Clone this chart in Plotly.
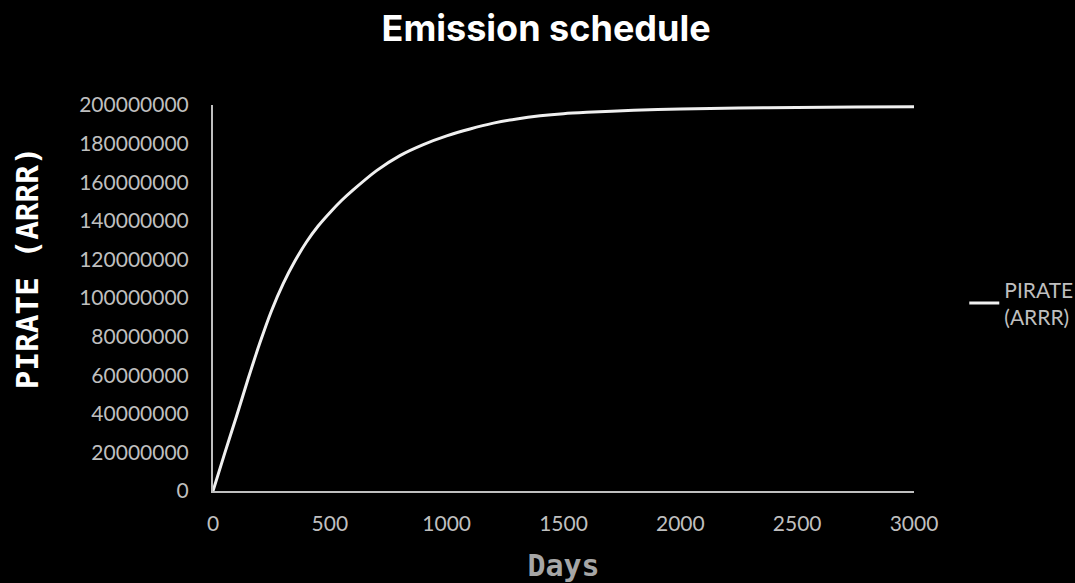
import plotly.graph_objects as go

days = [0, 50, 100, 150, 200, 250, 300, 350, 400, 450, 500, 550, 600, 700, 800, 900,
        1000, 1100, 1200, 1300, 1400, 1500, 1600, 1800, 2000, 2250, 2500, 2750, 3000]
supply = [0, 19.5e6, 38.5e6, 58e6, 76.5e6, 93.3e6, 107.3e6, 119e6, 129e6, 137.3e6, 144.2e6,
          150.5e6, 156e6, 166e6, 173.8e6, 179.5e6, 184e6, 187.6e6, 190.6e6, 192.8e6,
          194.4e6, 195.5e6, 196.2e6, 197.3e6, 197.9e6, 198.4e6, 198.7e6, 198.9e6, 199.1e6]
series_name = "PIRATE<br>(ARRR)"
x_ticks = [0, 500, 1000, 1500, 2000, 2500, 3000]
y_ticks = [i * 20000000 for i in range(11)]

fig = go.Figure()
fig.add_trace(go.Scatter(x=days, y=supply, mode="lines", name=series_name,
                         line=dict(color="#f0f0f0", width=3, shape="spline", smoothing=0.8),
                         showlegend=True))

fig.update_layout(
    width=1075, height=583, autosize=False,
    paper_bgcolor="#000000", plot_bgcolor="#000000",
    margin=dict(l=213, r=161, t=105, b=92, autoexpand=False),
    title=dict(text="<b>Emission schedule</b>", x=0.508, xanchor="center", y=0.952, yanchor="middle",
               font=dict(family="Inter", size=36, color="#ffffff")),
    legend=dict(xref="container", yref="container", x=0.897, y=0.48,
                xanchor="left", yanchor="middle",
                font=dict(family="Lato", size=21, color="#bfbfbf"),
                bgcolor="rgba(0,0,0,0)"),
    xaxis=dict(range=[0, 3000], tickvals=x_ticks, ticktext=[str(v) for v in x_ticks],
               showgrid=False, zeroline=False, showline=True, linecolor="#bfbfbf", linewidth=2,
               ticks="", ticklabelstandoff=13, automargin=False,
               tickfont=dict(family="Lato", size=21, color="#bfbfbf"),
               title=dict(text="<b>Days</b>", standoff=22,
                          font=dict(family="DejaVu Sans Mono", size=30, color="#a6a6a6"))),
    yaxis=dict(range=[0, 200000000], tickvals=y_ticks, ticktext=[str(v) for v in y_ticks],
               showgrid=False, zeroline=False, showline=True, linecolor="#bfbfbf", linewidth=2,
               ticks="", ticklabelstandoff=18, automargin=False,
               tickfont=dict(family="Lato", size=21, color="#bfbfbf")),
    annotations=[dict(text="<b>PIRATE (ARRR)</b>", textangle=-90, xref="paper", yref="paper",
                      x=-0.265, y=0.578, xanchor="center", yanchor="middle", showarrow=False,
                      font=dict(family="DejaVu Sans Mono", size=31, color="#ffffff"))],
)

fig.write_html("out.html", config={"displayModeBar": False},
               post_script="document.body.style.margin='0';document.body.style.padding='0';")
